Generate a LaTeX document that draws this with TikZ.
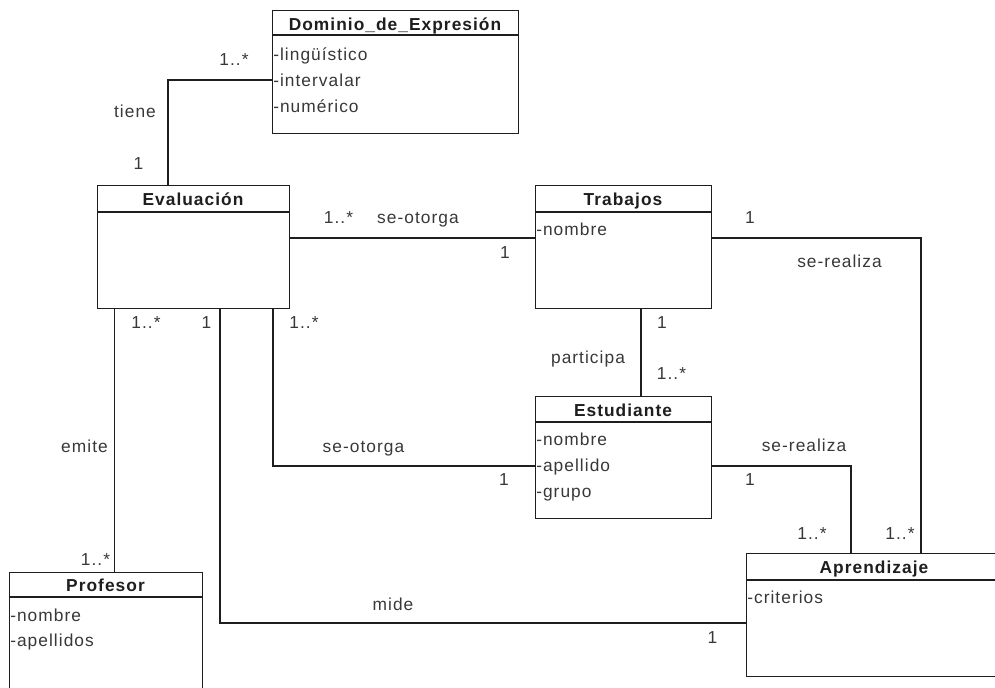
\documentclass[tikz,border=0pt]{standalone}
\usepackage{fontspec}
\setmainfont{Liberation Sans}[LetterSpace=6]
\usetikzlibrary{calc}
\definecolor{ink}{HTML}{1E1E1E}
\definecolor{txt}{HTML}{383838}
\tikzset{
  umlbox/.style={draw=ink, line width=1pt, inner sep=0pt, anchor=north west, fill=white},
  boxline/.style={draw=ink, line width=1pt},
  conn/.style={draw=ink, line width=1pt},
  title/.style={font=\fontsize{13pt}{15pt}\selectfont\bfseries, text=ink, inner sep=0pt, anchor=base},
  attr/.style={font=\fontsize{13pt}{15pt}\selectfont, text=txt, inner sep=0pt, anchor=base west},
  lbl/.style={font=\fontsize{13pt}{15pt}\selectfont, text=txt, inner sep=0pt, anchor=base}
}
\newcommand{\divline}[2]{\draw[boxline] ($(#1.north west)+(0,#2)$) -- ($(#1.north east)+(0,#2)$);}
\begin{document}
\begin{tikzpicture}[x=0.75pt,y=-0.75pt]
\useasboundingbox (0,0) rectangle (995,688);
% ---- class boxes ----
\node[umlbox, minimum width=184.5pt, minimum height=92.25pt] (dom) at (272,10) {};
\divline{dom}{25}
\node[title] (domT) at (395,30.5) {Dominio\_de\_Expresión};
\node[attr] (domA1) at (273,60.7) {-lingüístico};
\node[attr] (domA2) at (273,87) {-intervalar};
\node[attr] (domA3) at (273,112.7) {-numérico};

\node[umlbox, minimum width=144pt, minimum height=92.25pt] (eval) at (97,185) {};
\divline{eval}{27}
\node[title] (evalT) at (193,205.5) {Evaluación};

\node[umlbox, minimum width=132pt, minimum height=92.25pt] (trab) at (535,185) {};
\divline{trab}{27}
\node[title] (trabT) at (623,205.5) {Trabajos};
\node[attr] (trabA1) at (536,235) {-nombre};

\node[umlbox, minimum width=132pt, minimum height=91.5pt] (estu) at (535,396) {};
\divline{estu}{26}
\node[title] (estuT) at (623,416) {Estudiante};
\node[attr] (estuA1) at (536,445) {-nombre};
\node[attr] (estuA2) at (536,471) {-apellido};
\node[attr] (estuA3) at (536,497) {-grupo};

\node[umlbox, minimum width=192pt, minimum height=92.25pt] (apre) at (746,553) {};
\divline{apre}{27}
\node[title] (apreT) at (874,573) {Aprendizaje};
\node[attr] (apreA1) at (747,603) {-criterios};

\node[umlbox, minimum width=144.75pt, minimum height=96pt] (prof) at (9,572) {};
\divline{prof}{25}
\node[title] (profT) at (105.5,591.5) {Profesor};
\node[attr] (profA1) at (10,621) {-nombre};
\node[attr] (profA2) at (10,646.7) {-apellidos};

% ---- connectors ----
\coordinate (c1) at (168,80);
\draw[conn] (dom.west |- c1) -- (c1) -- (c1 |- eval.north);

\coordinate (c2) at (0,238);
\draw[conn] (eval.east |- c2) -- (trab.west |- c2);

\coordinate (c3) at (921,238);
\draw[conn] (trab.east |- c3) -- (c3) -- (c3 |- apre.north);

\coordinate (c4) at (641,0);
\draw[conn] (c4 |- trab.south) -- (c4 |- estu.north);

\coordinate (c5) at (273,466);
\draw[conn] (c5 |- eval.south) -- (c5) -- (estu.west |- c5);

\coordinate (c6) at (851,466);
\draw[conn] (estu.east |- c6) -- (c6) -- (c6 |- apre.north);

\coordinate (c7) at (114.5,0);
\draw[conn] (c7 |- eval.south) -- (c7 |- prof.north);

\coordinate (c8) at (220,623);
\draw[conn] (c8 |- eval.south) -- (c8) -- (apre.west |- c8);

% ---- labels ----
\node[lbl] (l1) at (234,65.7) {1..*};
\node[lbl] (l2) at (135,118) {tiene};
\node[lbl] (l3) at (138.5,170) {1};
\node[lbl] (l4) at (338.5,223) {1..*};
\node[lbl] (l5) at (418,223) {se-otorga};
\node[lbl] (l6) at (505,258) {1};
\node[lbl] (l7) at (750,223) {1};
\node[lbl] (l8) at (839.5,267) {se-realiza};
\node[lbl] (l9) at (662,328) {1};
\node[lbl] (l10) at (588,363) {participa};
\node[lbl] (l11) at (671.5,379) {1..*};
\node[lbl] (l12) at (146,328) {1..*};
\node[lbl] (l13) at (206.5,328) {1};
\node[lbl] (l14) at (304,328) {1..*};
\node[lbl] (l15) at (84.5,452) {emite};
\node[lbl] (l16) at (363.5,452) {se-otorga};
\node[lbl] (l17) at (504,485) {1};
\node[lbl] (l18) at (804,451) {se-realiza};
\node[lbl] (l19) at (750,485) {1};
\node[lbl] (l20) at (812,539) {1..*};
\node[lbl] (l21) at (900,539) {1..*};
\node[lbl] (l22) at (95.5,565) {1..*};
\node[lbl] (l23) at (393,610) {mide};
\node[lbl] (l24) at (712.5,643) {1};
\end{tikzpicture}
\end{document}
